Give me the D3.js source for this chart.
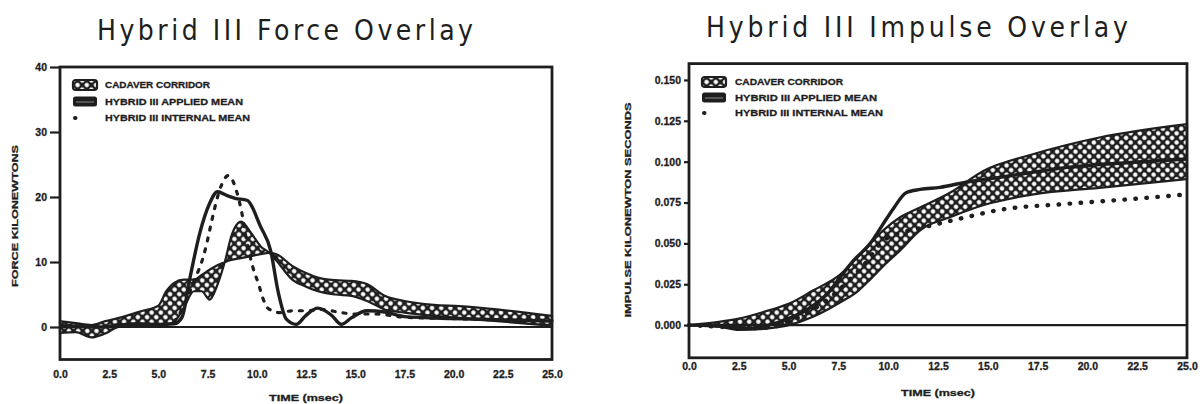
<!DOCTYPE html>
<html lang="en">
<head>
<meta charset="UTF-8">
<title>Hybrid III Overlay</title>
<script src="https://cdn.jsdelivr.net/npm/d3@7"></script>
<style>
  body { margin: 0; background: #fff; }
  svg { display: block; }
  .title { font-family: "DejaVu Sans Condensed", "Liberation Sans Narrow", sans-serif; font-size: 28px; fill: #1e1e1e; }
  .tick text { font-family: "Liberation Sans", Arial, sans-serif; font-weight: bold; font-size: 10.5px; fill: #1e1e1e; stroke: #1e1e1e; stroke-width: 0.3px; }
  .axis-label, .legend text { font-family: "Liberation Sans", Arial, sans-serif; font-weight: bold; font-size: 9.5px; fill: #1e1e1e; stroke: #1e1e1e; stroke-width: 0.3px; }
</style>
</head>
<body>
<div id="chart"></div>
<script>
// ---- data ----
const timeTicks = [0, 2.5, 5, 7.5, 10, 12.5, 15, 17.5, 20, 22.5, 25];
const forceTicks = [0, 10, 20, 30, 40];
const impulseTicks = [0, 0.025, 0.05, 0.075, 0.1, 0.125, 0.15];
const legendLabels = ["CADAVER CORRIDOR", "HYBRID III APPLIED MEAN", "HYBRID III INTERNAL MEAN"];

// force panel (kN vs msec)
const forceCorridorTime = [0, 0.8, 1.6, 2.3, 3, 4.2, 5, 5.4, 5.8, 6.3, 6.8, 7.2, 7.6, 8.0, 8.4, 8.7, 9.2, 9.7, 10.2, 10.6, 11.0, 11.8, 12.5, 13.1, 14, 14.8, 15.6, 16.5, 17.5, 19, 20.3, 22.2, 25];
const forceCorridorA = [0.9, 0.6, 0.3, 0.9, 1.4, 2.5, 3.3, 5.5, 6.8, 7.3, 7.3, 8.0, 8.8, 9.5, 10.0, 10.3, 10.6, 10.9, 11.2, 11.4, 11.2, 9.4, 8.3, 7.6, 7.2, 7.1, 6.6, 4.8, 4.0, 3.4, 3.2, 2.7, 1.7];
const forceCorridorB = [-0.9, -0.8, -1.6, -1.0, 0, 0.2, 0.3, 0.4, 0.8, 3.0, 5.5, 5.5, 4.2, 6.5, 10.3, 13.9, 16.2, 14.5, 12.4, 11.5, 10.2, 7.3, 6.2, 5.5, 5.0, 4.8, 4.0, 2.7, 2.2, 1.7, 1.4, 0.9, 0.2];
const forceAppliedTime = [0, 1, 2, 3, 4, 5, 5.8, 6.2, 6.6, 7.1, 7.6, 8.0, 8.5, 8.9, 9.5, 10.2, 10.7, 11.1, 11.5, 12, 12.5, 13.1, 13.8, 14.3, 14.8, 15.6, 16.5, 17.5, 20, 22.5, 25];
const forceApplied = [0.2, 0.1, 0.0, 0.3, 0.5, 0.4, 0.5, 1.5, 7.5, 14.4, 19, 20.8, 20.2, 19.8, 19.5, 15.4, 11.8, 5.2, 1.2, 0.4, 1.8, 2.9, 1.8, 0.4, 1.4, 2.5, 2.3, 1.6, 1.3, 1.1, 0.9];
const forceInternalTime = [5.8, 6.2, 6.8, 7.3, 7.5, 7.7, 8.2, 8.55, 9.0, 9.23, 9.5, 9.8, 10.1, 10.3, 10.6, 11.2, 11.8, 12.5, 13.3, 14.3, 15, 16, 17.5, 20, 22.5, 25];
const forceInternal = [0.8, 2.7, 7, 11, 13.4, 16.2, 21.8, 23.3, 20.6, 17.7, 13, 9.2, 6.5, 4.5, 2.8, 2.2, 2.5, 2.5, 2.7, 2.2, 2.0, 2.0, 1.5, 1.3, 1.1, 1.0];

// impulse panel (kN*s vs msec)
const impulseCorridorTime = [0, 1.5, 2.5, 4, 5, 6.2, 7.6, 8.5, 9.1, 9.75, 10.6, 11.6, 13.1, 14.8, 17.3, 20.6, 25];
const impulseUpper = [0, 0.002, 0.004, 0.009, 0.013, 0.021, 0.031, 0.042, 0.050, 0.058, 0.066, 0.072, 0.081, 0.0945, 0.1047, 0.1148, 0.123];
const impulseLower = [0, -0.001, -0.003, -0.002, 0.0, 0.005, 0.014, 0.021, 0.028, 0.036, 0.0457, 0.058, 0.066, 0.0735, 0.080, 0.084, 0.0894];
const impulseAppliedTime = [0, 2, 3, 4, 5, 6, 7, 7.6, 8.3, 9.1, 9.7, 10.3, 10.9, 11.6, 12.6, 13.9, 15.6, 19, 22.3, 25];
const impulseApplied = [0, -0.001, -0.002, 0.0, 0.004, 0.01, 0.02, 0.0295, 0.040, 0.050, 0.061, 0.072, 0.081, 0.083, 0.0843, 0.0874, 0.0904, 0.0965, 0.0996, 0.1016];
const impulseInternalTime = [0, 1.5, 3, 4, 5, 6, 7, 8, 9, 9.6, 10.5, 11.5, 12.5, 13.9, 15.6, 19, 22.3, 25];
const impulseInternal = [0, -0.001, -0.002, -0.0015, 0.002, 0.008, 0.016, 0.027, 0.040, 0.050, 0.056, 0.059, 0.062, 0.066, 0.0705, 0.0742, 0.0772, 0.080];

const ink = "#1e1e1e";
const W = 1204, H = 404;

const svg = d3.select("#chart").append("svg")
    .attr("width", W)
    .attr("height", H);

// crosshatch used for the cadaver corridor
const pat = svg.append("defs").append("pattern")
    .attr("id", "xhatch")
    .attr("patternUnits", "userSpaceOnUse")
    .attr("width", 6.5).attr("height", 6.5)
    .attr("patternTransform", "rotate(45)");
pat.append("rect").attr("width", 6.5).attr("height", 6.5).attr("fill", ink);
pat.append("rect").attr("x", 1.1).attr("y", 1.1).attr("width", 4.3).attr("height", 4.3)
    .attr("rx", 1.6).attr("fill", "#fff");

function zip(xs, ys) { return xs.map((x, i) => [x, ys[i]]); }

function drawPanel(p) {
    const x = d3.scaleLinear().domain([0, 25]).range(p.xRange);
    const y = d3.scaleLinear().domain(p.yDomain).range(p.yRange);
    const g = svg.append("g");

    // title
    g.append("text").attr("class", "title")
        .attr("x", p.title.x).attr("y", p.title.y)
        .attr("text-anchor", "middle")
        .attr("textLength", p.title.w).attr("lengthAdjust", "spacing")
        .text(p.title.text);

    // corridor band
    const band = zip(p.corridor.t, p.corridor.a).map((d, i) => ({t: d[0], a: d[1], b: p.corridor.b[i]}));
    g.append("path")
        .datum(band)
        .attr("fill", "url(#xhatch)")
        .attr("stroke", ink)
        .attr("stroke-width", 2.2)
        .attr("d", d3.area().curve(d3.curveMonotoneX)
            .x(d => x(d.t)).y0(d => y(d.a)).y1(d => y(d.b)));

    const line = d3.line().curve(d3.curveMonotoneX).x(d => x(d[0])).y(d => y(d[1]));

    // zero reference
    g.append("line")
        .attr("x1", x(0)).attr("x2", x(25))
        .attr("y1", y(0)).attr("y2", y(0))
        .attr("stroke", ink).attr("stroke-width", 2.2);

    g.append("path")
        .datum(zip(p.applied.t, p.applied.v))
        .attr("fill", "none").attr("stroke", ink)
        .attr("stroke-width", 3.4).attr("stroke-linejoin", "round")
        .attr("d", line);

    g.append("path")
        .datum(zip(p.internal.t, p.internal.v))
        .attr("fill", "none").attr("stroke", ink)
        .attr("stroke-width", p.dotWidth).attr("stroke-linecap", "round")
        .attr("stroke-dasharray", p.dotDash)
        .attr("d", line);

    // frame
    g.append("rect")
        .attr("x", x(0)).attr("y", y(p.yDomain[1]))
        .attr("width", x(25) - x(0)).attr("height", y(p.yDomain[0]) - y(p.yDomain[1]))
        .attr("fill", "none").attr("stroke", ink).attr("stroke-width", 2.8);

    // axes
    const yAxis = g.append("g")
        .attr("transform", `translate(${x(0)},0)`)
        .call(d3.axisLeft(y).tickValues(p.yTicks).tickFormat(p.yFormat)
            .tickSize(p.yTickSize).tickPadding(3));
    yAxis.select(".domain").remove();
    yAxis.selectAll(".tick line").attr("stroke", ink).attr("stroke-width", 2.2);

    const xAxis = g.append("g")
        .attr("transform", `translate(0,${y(p.yDomain[0])})`)
        .call(d3.axisBottom(x).tickValues(timeTicks).tickFormat(d3.format(".1f"))
            .tickSize(0).tickPadding(p.xPad));
    xAxis.select(".domain").remove();

    g.append("text").attr("class", "axis-label")
        .attr("x", x(12.5)).attr("y", p.xLabelY)
        .attr("text-anchor", "middle")
        .attr("textLength", 74).attr("lengthAdjust", "spacingAndGlyphs")
        .text("TIME (msec)");

    g.append("text").attr("class", "axis-label")
        .attr("transform", `translate(${p.yLabel.x},${p.yLabel.y}) rotate(-90)`)
        .attr("text-anchor", "middle")
        .attr("textLength", p.yLabel.w).attr("lengthAdjust", "spacingAndGlyphs")
        .text(p.yLabel.text);

    // legend
    const lg = g.append("g").attr("class", "legend")
        .attr("transform", `translate(${p.legend.x},${p.legend.y})`);
    const rows = lg.selectAll("g").data(legendLabels).join("g")
        .attr("transform", (d, i) => `translate(0,${i * p.legend.step})`);
    rows.append("text")
        .attr("x", p.legend.textX).attr("y", 0).attr("dy", "0.35em")
        .attr("textLength", (d, i) => p.legend.widths[i]).attr("lengthAdjust", "spacingAndGlyphs")
        .text(d => d);
    rows.filter((d, i) => i === 0).append("rect")
        .attr("x", 0).attr("y", -5).attr("width", 24).attr("height", 10).attr("rx", 2.5)
        .attr("fill", "url(#xhatch)").attr("stroke", ink).attr("stroke-width", 2.2);
    const r2 = rows.filter((d, i) => i === 1);
    r2.append("rect")
        .attr("x", 0).attr("y", -5).attr("width", 24).attr("height", 10).attr("rx", 2.5)
        .attr("fill", ink);
    r2.append("line").attr("x1", 3).attr("x2", 21).attr("y1", 0.5).attr("y2", 0.5)
        .attr("stroke", "#888").attr("stroke-width", 1);
    rows.filter((d, i) => i === 2).append("line")
        .attr("x1", 2).attr("x2", 22).attr("y1", 0).attr("y2", 0)
        .attr("stroke", ink).attr("stroke-width", 4).attr("stroke-linecap", "round")
        .attr("stroke-dasharray", "0.5 19.5");
}

drawPanel({
    xRange: [60, 552],
    yDomain: [-5, 40], yRange: [359.5, 67],
    yTicks: forceTicks, yFormat: d3.format("d"), yTickSize: 10,
    xPad: 11, xLabelY: 401,
    title: {text: "Hybrid III Force Overlay", x: 285, y: 40, w: 376},
    yLabel: {text: "FORCE KILONEWTONS", x: 18, y: 216, w: 142},
    corridor: {t: forceCorridorTime, a: forceCorridorA, b: forceCorridorB},
    applied: {t: forceAppliedTime, v: forceApplied},
    internal: {t: forceInternalTime, v: forceInternal},
    dotWidth: 3.2, dotDash: "3 8",
    legend: {x: 73, y: 85, step: 16.5, textX: 32, widths: [105, 138, 145]}
});

drawPanel({
    xRange: [689, 1187],
    yDomain: [-0.02, 0.16], yRange: [357.8, 63.6],
    yTicks: impulseTicks, yFormat: d3.format(".3f"), yTickSize: 5,
    xPad: 5, xLabelY: 396,
    title: {text: "Hybrid III Impulse Overlay", x: 917, y: 37, w: 422},
    yLabel: {text: "IMPULSE KILONEWTON SECONDS", x: 631, y: 210, w: 215},
    corridor: {t: impulseCorridorTime, a: impulseUpper, b: impulseLower},
    applied: {t: impulseAppliedTime, v: impulseApplied},
    internal: {t: impulseInternalTime, v: impulseInternal},
    dotWidth: 4.4, dotDash: "0.5 10.5",
    legend: {x: 702, y: 82, step: 15.5, textX: 33, widths: [108, 142, 148]}
});
</script>
</body>
</html>
